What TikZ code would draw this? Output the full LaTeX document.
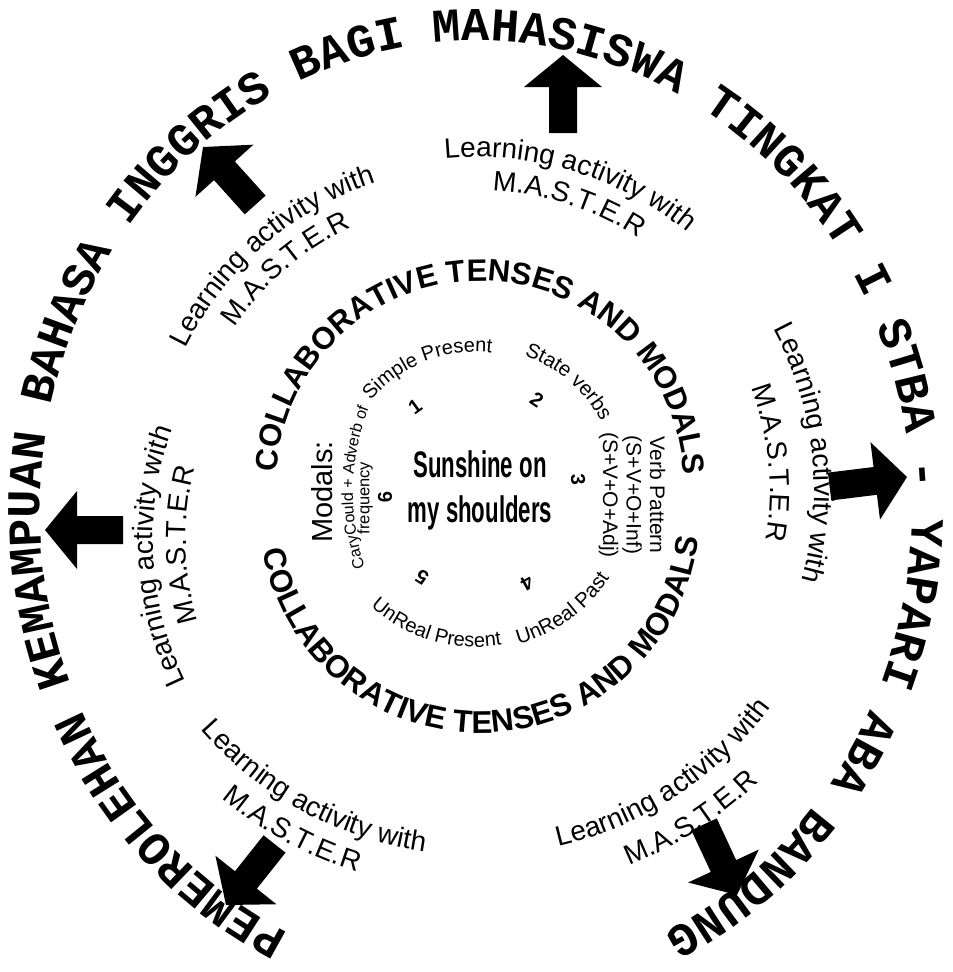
\documentclass[tikz,border=0pt]{standalone}
\usepackage{fontspec}
\setmainfont{Liberation Sans}
\setmonofont{Liberation Mono}
\usetikzlibrary{decorations.text,calc}

\newcommand\fsz[2]{\fontsize{#1}{#2}\selectfont}
% clockwise text (tops away from centre): cx, cy, radius, mid angle, half span, text
\newcommand\cwtext[6]{%
  \path[decorate,decoration={text along path,text align=center,text={#6}}]
    ($(#1,#2)+({#4+#5}:#3)$) arc[start angle={#4+#5},end angle={#4-#5},radius=#3];}
% counter-clockwise text (tops toward centre)
\newcommand\ccwtext[6]{%
  \path[decorate,decoration={text along path,text align=center,text={#6}}]
    ($(#1,#2)+({#4-#5}:#3)$) arc[start angle={#4-#5},end angle={#4+#5},radius=#3];}
% block arrow: tip x, tip y, direction
\newcommand\bigarrow[3]{%
  \fill[black,shift={(#1,#2)},rotate=#3] (0,0) -- (-32,39) -- (-32,14) -- (-78,14)
    -- (-78,-14) -- (-32,-14) -- (-32,-39) -- cycle;}

\begin{document}
\begin{tikzpicture}[x=1pt,y=1pt,
  numstyle/.style={font=\fsz{20}{20}\bfseries,inner sep=0pt}]
\useasboundingbox (0,0) rectangle (953,-972);
\fill[white] (0,0) rectangle (953,-972);

% outer ring
\path[decorate,decoration={text along path,
  text={|\fsz{47}{47}\ttfamily\bfseries|PEMEROLEHAN KEMAMPUAN BAHASA INGGRIS BAGI MAHASISWA TINGKAT I STBA - YAPARI ABA BANDUNG}}]
  ($(476,-510)+(244.5:436 and 469)$) arc[start angle=244.5,end angle=-110,x radius=436,y radius=469];

% COLLABORATIVE rings
\cwtext{480}{-485}{204}{89.6}{100}{|\fsz{31}{31}\bfseries|COLLABORATIVE TENSES AND MODALS}
\ccwtext{480}{-513}{220}{271.7}{100}{|\fsz{31.5}{31.5}\bfseries|COLLABORATIVE TENSES AND MODALS}

% inner ring
\cwtext{476}{-490}{138}{111.6}{70}{|\fsz{20}{20}|Simple Present}
\cwtext{476}{-490}{143}{49.5}{50}{|\fsz{20.5}{20.5}|State verbs}
\ccwtext{476}{-490}{160}{-54}{50}{|\fsz{20.5}{20.5}|UnReal Past}
\ccwtext{476}{-490}{157}{253.7}{60}{|\fsz{20}{20}|UnReal Present}
\cwtext{590}{-493}{237}{178.6}{40}{|\fsz{16}{16}|CaryCould + Adverb of}

\node[rotate=-90,align=center,font=\fsz{21}{23.5}] (vp) at (632,-495)
  {Verb Pattern\\(S+V+O+Inf)\\(S+V+O+Adj)};
\node[rotate=90,font=\fsz{29}{32}] (modals) at (322,-492) {Modals:};
\node[rotate=90,font=\fsz{16.5}{20}] (freq) at (365,-498) {frequency};

% numbers
\node[numstyle,rotate=36] (n1) at (415,-407) {1};
\node[numstyle,rotate=-34] (n2) at (537,-400) {2};
\node[numstyle,rotate=-86] (n3) at (578,-480) {3};
\node[numstyle,rotate=-151] (n4) at (527,-583) {4};
\node[numstyle,rotate=148] (n5) at (422,-577) {5};
\node[numstyle,rotate=92] (n6) at (385,-497) {6};

% centre title
\node[font=\fsz{37}{45}\bfseries,xscale=0.6,align=center] (title) at (480,-490)
  {Sunshine on\\my shoulders};

% learning activity labels
\cwtext{476}{-490}{323}{131}{60}{|\fsz{28}{28}|Learning activity with}
\cwtext{476}{-490}{291}{130.7}{60}{|\fsz{28}{28}|M.A.S.T.E.R}
\cwtext{476}{-490}{333}{73}{60}{|\fsz{28}{28}|Learning activity with}
\cwtext{476}{-490}{300}{72}{60}{|\fsz{28}{28}|M.A.S.T.E.R}
\cwtext{476}{-490}{338}{6.5}{60}{|\fsz{28}{28}|Learning activity with}
\cwtext{476}{-490}{294}{5.3}{60}{|\fsz{28}{28}|M.A.S.T.E.R}
\ccwtext{476}{-490}{366}{-56.7}{60}{|\fsz{28}{28}|Learning activity with}
\ccwtext{476}{-490}{406}{-56.8}{60}{|\fsz{28}{28}|M.A.S.T.E.R}
\ccwtext{476}{-490}{365}{241.5}{60}{|\fsz{28}{28}|Learning activity with}
\ccwtext{476}{-490}{400}{241.6}{60}{|\fsz{28}{28}|M.A.S.T.E.R}
\cwtext{476}{-540}{323}{183}{60}{|\fsz{28}{28}|Learning activity with}
\cwtext{476}{-540}{290}{181}{60}{|\fsz{28}{28}|M.A.S.T.E.R}

% arrows
\bigarrow{203}{-147}{132}
\bigarrow{563}{-55}{90}
\bigarrow{907}{-477}{7}
\bigarrow{737}{-895}{-65}
\bigarrow{226}{-905}{231.5}
\bigarrow{45}{-530}{180}
\end{tikzpicture}
\end{document}
